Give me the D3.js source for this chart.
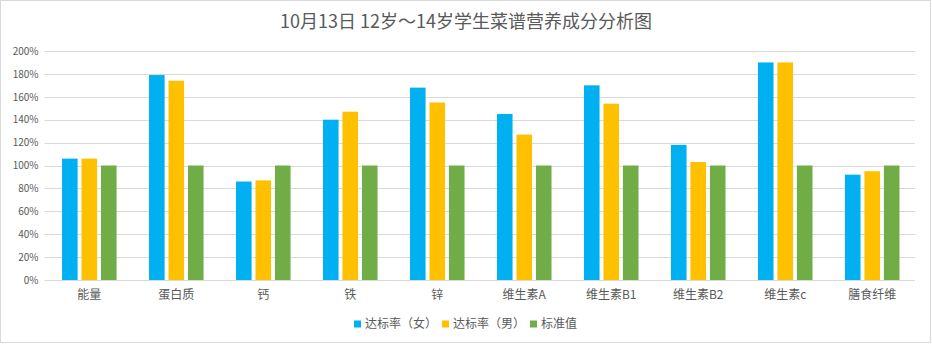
<!DOCTYPE html>
<html><head><meta charset="utf-8">
<script src="https://cdn.jsdelivr.net/npm/d3@7"></script>
<style>
html,body{margin:0;padding:0;background:#fff;}
svg{display:block;font-family:"Noto Sans CJK SC","Noto Sans",sans-serif;}
</style></head>
<body><svg id="c" width="932" height="344"></svg>
<script>
const categories = ["能量","蛋白质","钙","铁","锌","维生素A","维生素B1","维生素B2","维生素c","膳食纤维"];
const seriesNames = ["达标率（女）","达标率（男）","标准值"];
const female = [1.06,1.79,0.86,1.40,1.68,1.45,1.70,1.18,1.90,0.92];
const male   = [1.06,1.74,0.87,1.47,1.55,1.27,1.54,1.03,1.90,0.95];
const standard = [1.00,1.00,1.00,1.00,1.00,1.00,1.00,1.00,1.00,1.00];
const yTicks = [0,0.2,0.4,0.6,0.8,1.0,1.2,1.4,1.6,1.8,2.0];
const colors = ["#00b0f0","#ffc000","#70ad47"];
const title = "10月13日 12岁～14岁学生菜谱营养成分分析图";

(function(){
const seriesValues = [female, male, standard];
const svg = d3.select("#c");
const W = 932, H = 344;
svg.append("rect").attr("x",0.5).attr("y",0.5).attr("width",W-2).attr("height",H-2)
  .attr("fill","#fff").attr("stroke","#d9d9d9");

const pLeft = 44.5, pRight = 915, pTop = 51, pBottom = 280;
const x = d3.scaleBand().domain(categories).range([pLeft+1,pRight+1]).paddingInner(0.373).paddingOuter(0.19);
const xs = d3.scaleBand().domain(seriesNames).range([0,x.bandwidth()]).paddingInner(0.2);
const y = d3.scaleLinear().domain([0,2]).range([pBottom,pTop]);

svg.append("g").selectAll("line").data(yTicks).join("line")
  .attr("x1",pLeft).attr("x2",pRight)
  .attr("y1",d=>Math.round(y(d))+0.5).attr("y2",d=>Math.round(y(d))+0.5)
  .attr("stroke","#d9d9d9").attr("stroke-width",1);

const yAxis = d3.axisLeft(y).tickValues(yTicks).tickFormat(d=>Math.round(d*100)+"%").tickSize(0).tickPadding(6);
const gy = svg.append("g").attr("transform",`translate(${pLeft},0)`).call(yAxis);
gy.select(".domain").remove();
gy.selectAll("text").attr("fill","#595959").style("font-size","10px")
  .style("font-family","'Noto Sans CJK SC',sans-serif");

const groups = svg.append("g").selectAll("g").data(categories).join("g")
  .attr("transform",d=>`translate(${x(d)},0)`);
groups.selectAll("rect").data((c,i)=>seriesNames.map((s,j)=>({s,v:seriesValues[j][i],j})))
  .join("rect")
  .attr("x",d=>xs(d.s)).attr("width",xs.bandwidth())
  .attr("y",d=>y(d.v)).attr("height",d=>y(0)-y(d.v))
  .attr("fill",d=>colors[d.j]);

const xAxis = d3.axisBottom(x).tickSize(0).tickPadding(10);
const gx = svg.append("g").attr("transform",`translate(0,${pBottom})`).call(xAxis);
gx.select(".domain").remove();
gx.selectAll("text").attr("fill","#595959").style("font-size","12px")
  .style("font-family","'Noto Sans CJK SC',sans-serif");

svg.append("text").attr("x",466).attr("y",28).attr("text-anchor","middle")
  .attr("fill","#595959").style("font-size","18px").text(title);

const legendX = [354, 442, 530];
const lg = svg.append("g").selectAll("g").data(seriesNames).join("g")
  .attr("transform",(d,i)=>`translate(${legendX[i]},324)`);
lg.append("rect").attr("x",0).attr("y",-3.5).attr("width",7).attr("height",7).attr("fill",(d,i)=>colors[i]);
lg.append("text").attr("x",11).attr("y",0).attr("dy","0.35em").attr("fill","#595959")
  .style("font-size","12px").text(d=>d);
})();
</script></body></html>
